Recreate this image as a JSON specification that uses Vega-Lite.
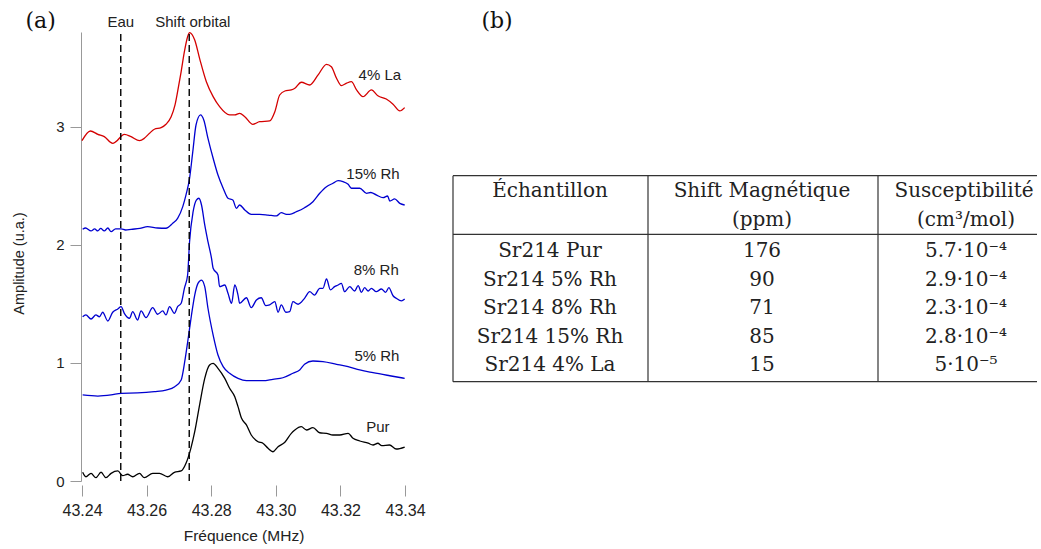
{
 "$schema": "https://vega.github.io/schema/vega-lite/v6.json",
 "background": "white",
 "padding": {"left": 11, "top": 10, "right": 0, "bottom": 0},
 "spacing": 26,
 "config": {"view": {"stroke": null}, "font": "Liberation Sans"},
 "datasets": {
  "curves": [
   {"s":"4% La","f":43.2400,"a":2.884},{"s":"4% La","f":43.2426,"a":2.966},{"s":"4% La","f":43.2449,"a":2.938},{"s":"4% La","f":43.2469,"a":2.918},{"s":"4% La","f":43.2495,"a":2.862},{"s":"4% La","f":43.2505,"a":2.876},{"s":"4% La","f":43.2531,"a":2.938},{"s":"4% La","f":43.2552,"a":2.918},{"s":"4% La","f":43.2578,"a":2.884},{"s":"4% La","f":43.2593,"a":2.904},{"s":"4% La","f":43.2609,"a":2.947},{"s":"4% La","f":43.2624,"a":2.981},{"s":"4% La","f":43.2645,"a":2.994},{"s":"4% La","f":43.2660,"a":3.023},{"s":"4% La","f":43.2676,"a":3.087},{"s":"4% La","f":43.2688,"a":3.187},{"s":"4% La","f":43.2696,"a":3.299},{"s":"4% La","f":43.2707,"a":3.469},{"s":"4% La","f":43.2717,"a":3.638},{"s":"4% La","f":43.2727,"a":3.765},{"s":"4% La","f":43.2733,"a":3.800},{"s":"4% La","f":43.2749,"a":3.737},{"s":"4% La","f":43.2764,"a":3.582},{"s":"4% La","f":43.2785,"a":3.384},{"s":"4% La","f":43.2806,"a":3.257},{"s":"4% La","f":43.2826,"a":3.172},{"s":"4% La","f":43.2857,"a":3.102},{"s":"4% La","f":43.2873,"a":3.102},{"s":"4% La","f":43.2888,"a":3.116},{"s":"4% La","f":43.2904,"a":3.087},{"s":"4% La","f":43.2929,"a":3.023},{"s":"4% La","f":43.2950,"a":3.045},{"s":"4% La","f":43.2981,"a":3.051},{"s":"4% La","f":43.2997,"a":3.130},{"s":"4% La","f":43.3012,"a":3.271},{"s":"4% La","f":43.3028,"a":3.305},{"s":"4% La","f":43.3048,"a":3.314},{"s":"4% La","f":43.3059,"a":3.328},{"s":"4% La","f":43.3079,"a":3.379},{"s":"4% La","f":43.3105,"a":3.356},{"s":"4% La","f":43.3131,"a":3.441},{"s":"4% La","f":43.3157,"a":3.531},{"s":"4% La","f":43.3172,"a":3.511},{"s":"4% La","f":43.3188,"a":3.413},{"s":"4% La","f":43.3203,"a":3.350},{"s":"4% La","f":43.3219,"a":3.371},{"s":"4% La","f":43.3234,"a":3.384},{"s":"4% La","f":43.3250,"a":3.314},{"s":"4% La","f":43.3270,"a":3.257},{"s":"4% La","f":43.3296,"a":3.314},{"s":"4% La","f":43.3316,"a":3.265},{"s":"4% La","f":43.3342,"a":3.237},{"s":"4% La","f":43.3363,"a":3.193},{"s":"4% La","f":43.3384,"a":3.136},{"s":"4% La","f":43.3399,"a":3.164},
   {"s":"15% Rh","f":43.2402,"a":2.133},{"s":"15% Rh","f":43.2411,"a":2.144},{"s":"15% Rh","f":43.2428,"a":2.119},{"s":"15% Rh","f":43.2439,"a":2.136},{"s":"15% Rh","f":43.2449,"a":2.119},{"s":"15% Rh","f":43.2458,"a":2.140},{"s":"15% Rh","f":43.2469,"a":2.119},{"s":"15% Rh","f":43.2480,"a":2.144},{"s":"15% Rh","f":43.2490,"a":2.113},{"s":"15% Rh","f":43.2504,"a":2.136},{"s":"15% Rh","f":43.2521,"a":2.136},{"s":"15% Rh","f":43.2535,"a":2.127},{"s":"15% Rh","f":43.2552,"a":2.133},{"s":"15% Rh","f":43.2579,"a":2.140},{"s":"15% Rh","f":43.2603,"a":2.155},{"s":"15% Rh","f":43.2634,"a":2.144},{"s":"15% Rh","f":43.2660,"a":2.142},{"s":"15% Rh","f":43.2681,"a":2.184},{"s":"15% Rh","f":43.2696,"a":2.226},{"s":"15% Rh","f":43.2712,"a":2.325},{"s":"15% Rh","f":43.2722,"a":2.424},{"s":"15% Rh","f":43.2733,"a":2.565},{"s":"15% Rh","f":43.2743,"a":2.791},{"s":"15% Rh","f":43.2753,"a":3.017},{"s":"15% Rh","f":43.2767,"a":3.102},{"s":"15% Rh","f":43.2777,"a":3.059},{"s":"15% Rh","f":43.2790,"a":2.904},{"s":"15% Rh","f":43.2806,"a":2.735},{"s":"15% Rh","f":43.2821,"a":2.593},{"s":"15% Rh","f":43.2837,"a":2.481},{"s":"15% Rh","f":43.2852,"a":2.396},{"s":"15% Rh","f":43.2867,"a":2.381},{"s":"15% Rh","f":43.2878,"a":2.311},{"s":"15% Rh","f":43.2888,"a":2.339},{"s":"15% Rh","f":43.2904,"a":2.297},{"s":"15% Rh","f":43.2924,"a":2.260},{"s":"15% Rh","f":43.2950,"a":2.260},{"s":"15% Rh","f":43.2976,"a":2.254},{"s":"15% Rh","f":43.3002,"a":2.246},{"s":"15% Rh","f":43.3017,"a":2.274},{"s":"15% Rh","f":43.3033,"a":2.260},{"s":"15% Rh","f":43.3043,"a":2.260},{"s":"15% Rh","f":43.3064,"a":2.282},{"s":"15% Rh","f":43.3089,"a":2.316},{"s":"15% Rh","f":43.3115,"a":2.367},{"s":"15% Rh","f":43.3136,"a":2.438},{"s":"15% Rh","f":43.3157,"a":2.494},{"s":"15% Rh","f":43.3177,"a":2.523},{"s":"15% Rh","f":43.3193,"a":2.545},{"s":"15% Rh","f":43.3208,"a":2.537},{"s":"15% Rh","f":43.3224,"a":2.514},{"s":"15% Rh","f":43.3234,"a":2.481},{"s":"15% Rh","f":43.3260,"a":2.481},{"s":"15% Rh","f":43.3281,"a":2.438},{"s":"15% Rh","f":43.3294,"a":2.445},{"s":"15% Rh","f":43.3311,"a":2.424},{"s":"15% Rh","f":43.3332,"a":2.401},{"s":"15% Rh","f":43.3346,"a":2.415},{"s":"15% Rh","f":43.3353,"a":2.373},{"s":"15% Rh","f":43.3368,"a":2.390},{"s":"15% Rh","f":43.3384,"a":2.353},{"s":"15% Rh","f":43.3399,"a":2.339},
   {"s":"8% Rh","f":43.2402,"a":1.392},{"s":"8% Rh","f":43.2412,"a":1.407},{"s":"8% Rh","f":43.2428,"a":1.373},{"s":"8% Rh","f":43.2443,"a":1.407},{"s":"8% Rh","f":43.2454,"a":1.392},{"s":"8% Rh","f":43.2464,"a":1.430},{"s":"8% Rh","f":43.2480,"a":1.356},{"s":"8% Rh","f":43.2495,"a":1.430},{"s":"8% Rh","f":43.2511,"a":1.458},{"s":"8% Rh","f":43.2521,"a":1.477},{"s":"8% Rh","f":43.2531,"a":1.421},{"s":"8% Rh","f":43.2547,"a":1.379},{"s":"8% Rh","f":43.2557,"a":1.435},{"s":"8% Rh","f":43.2572,"a":1.364},{"s":"8% Rh","f":43.2583,"a":1.441},{"s":"8% Rh","f":43.2598,"a":1.384},{"s":"8% Rh","f":43.2619,"a":1.469},{"s":"8% Rh","f":43.2634,"a":1.413},{"s":"8% Rh","f":43.2650,"a":1.441},{"s":"8% Rh","f":43.2660,"a":1.407},{"s":"8% Rh","f":43.2671,"a":1.477},{"s":"8% Rh","f":43.2686,"a":1.421},{"s":"8% Rh","f":43.2696,"a":1.477},{"s":"8% Rh","f":43.2707,"a":1.506},{"s":"8% Rh","f":43.2717,"a":1.633},{"s":"8% Rh","f":43.2727,"a":1.746},{"s":"8% Rh","f":43.2733,"a":2.028},{"s":"8% Rh","f":43.2744,"a":2.282},{"s":"8% Rh","f":43.2754,"a":2.381},{"s":"8% Rh","f":43.2762,"a":2.396},{"s":"8% Rh","f":43.2770,"a":2.339},{"s":"8% Rh","f":43.2780,"a":2.170},{"s":"8% Rh","f":43.2790,"a":2.028},{"s":"8% Rh","f":43.2801,"a":1.887},{"s":"8% Rh","f":43.2806,"a":1.803},{"s":"8% Rh","f":43.2821,"a":1.746},{"s":"8% Rh","f":43.2826,"a":1.647},{"s":"8% Rh","f":43.2842,"a":1.661},{"s":"8% Rh","f":43.2852,"a":1.591},{"s":"8% Rh","f":43.2863,"a":1.506},{"s":"8% Rh","f":43.2873,"a":1.661},{"s":"8% Rh","f":43.2883,"a":1.576},{"s":"8% Rh","f":43.2888,"a":1.506},{"s":"8% Rh","f":43.2909,"a":1.553},{"s":"8% Rh","f":43.2924,"a":1.469},{"s":"8% Rh","f":43.2940,"a":1.534},{"s":"8% Rh","f":43.2955,"a":1.553},{"s":"8% Rh","f":43.2969,"a":1.486},{"s":"8% Rh","f":43.2981,"a":1.492},{"s":"8% Rh","f":43.2997,"a":1.520},{"s":"8% Rh","f":43.3007,"a":1.430},{"s":"8% Rh","f":43.3017,"a":1.492},{"s":"8% Rh","f":43.3031,"a":1.430},{"s":"8% Rh","f":43.3043,"a":1.435},{"s":"8% Rh","f":43.3053,"a":1.520},{"s":"8% Rh","f":43.3069,"a":1.498},{"s":"8% Rh","f":43.3089,"a":1.548},{"s":"8% Rh","f":43.3105,"a":1.604},{"s":"8% Rh","f":43.3120,"a":1.576},{"s":"8% Rh","f":43.3136,"a":1.633},{"s":"8% Rh","f":43.3146,"a":1.633},{"s":"8% Rh","f":43.3157,"a":1.712},{"s":"8% Rh","f":43.3169,"a":1.619},{"s":"8% Rh","f":43.3182,"a":1.647},{"s":"8% Rh","f":43.3193,"a":1.661},{"s":"8% Rh","f":43.3203,"a":1.675},{"s":"8% Rh","f":43.3213,"a":1.604},{"s":"8% Rh","f":43.3229,"a":1.647},{"s":"8% Rh","f":43.3244,"a":1.610},{"s":"8% Rh","f":43.3255,"a":1.655},{"s":"8% Rh","f":43.3265,"a":1.599},{"s":"8% Rh","f":43.3275,"a":1.638},{"s":"8% Rh","f":43.3286,"a":1.610},{"s":"8% Rh","f":43.3296,"a":1.633},{"s":"8% Rh","f":43.3311,"a":1.604},{"s":"8% Rh","f":43.3327,"a":1.627},{"s":"8% Rh","f":43.3340,"a":1.599},{"s":"8% Rh","f":43.3350,"a":1.638},{"s":"8% Rh","f":43.3363,"a":1.570},{"s":"8% Rh","f":43.3373,"a":1.548},{"s":"8% Rh","f":43.3389,"a":1.526},{"s":"8% Rh","f":43.3399,"a":1.542},
   {"s":"5% Rh","f":43.2402,"a":0.729},{"s":"5% Rh","f":43.2449,"a":0.720},{"s":"5% Rh","f":43.2490,"a":0.729},{"s":"5% Rh","f":43.2521,"a":0.743},{"s":"5% Rh","f":43.2572,"a":0.746},{"s":"5% Rh","f":43.2624,"a":0.757},{"s":"5% Rh","f":43.2660,"a":0.771},{"s":"5% Rh","f":43.2687,"a":0.799},{"s":"5% Rh","f":43.2707,"a":0.856},{"s":"5% Rh","f":43.2718,"a":1.011},{"s":"5% Rh","f":43.2728,"a":1.195},{"s":"5% Rh","f":43.2739,"a":1.407},{"s":"5% Rh","f":43.2749,"a":1.576},{"s":"5% Rh","f":43.2759,"a":1.675},{"s":"5% Rh","f":43.2770,"a":1.703},{"s":"5% Rh","f":43.2780,"a":1.647},{"s":"5% Rh","f":43.2790,"a":1.464},{"s":"5% Rh","f":43.2806,"a":1.237},{"s":"5% Rh","f":43.2821,"a":1.068},{"s":"5% Rh","f":43.2837,"a":0.969},{"s":"5% Rh","f":43.2857,"a":0.913},{"s":"5% Rh","f":43.2883,"a":0.870},{"s":"5% Rh","f":43.2909,"a":0.850},{"s":"5% Rh","f":43.2960,"a":0.850},{"s":"5% Rh","f":43.2991,"a":0.862},{"s":"5% Rh","f":43.3022,"a":0.875},{"s":"5% Rh","f":43.3053,"a":0.913},{"s":"5% Rh","f":43.3074,"a":0.941},{"s":"5% Rh","f":43.3089,"a":0.989},{"s":"5% Rh","f":43.3115,"a":1.017},{"s":"5% Rh","f":43.3146,"a":1.011},{"s":"5% Rh","f":43.3188,"a":0.989},{"s":"5% Rh","f":43.3224,"a":0.969},{"s":"5% Rh","f":43.3260,"a":0.941},{"s":"5% Rh","f":43.3301,"a":0.918},{"s":"5% Rh","f":43.3353,"a":0.892},{"s":"5% Rh","f":43.3399,"a":0.870},
   {"s":"Pur","f":43.2402,"a":0.074},{"s":"Pur","f":43.2412,"a":0.036},{"s":"Pur","f":43.2428,"a":0.065},{"s":"Pur","f":43.2443,"a":0.028},{"s":"Pur","f":43.2459,"a":0.074},{"s":"Pur","f":43.2474,"a":0.028},{"s":"Pur","f":43.2490,"a":0.065},{"s":"Pur","f":43.2511,"a":0.085},{"s":"Pur","f":43.2526,"a":0.045},{"s":"Pur","f":43.2541,"a":0.057},{"s":"Pur","f":43.2557,"a":0.036},{"s":"Pur","f":43.2578,"a":0.065},{"s":"Pur","f":43.2593,"a":0.028},{"s":"Pur","f":43.2619,"a":0.065},{"s":"Pur","f":43.2640,"a":0.065},{"s":"Pur","f":43.2665,"a":0.036},{"s":"Pur","f":43.2686,"a":0.074},{"s":"Pur","f":43.2707,"a":0.085},{"s":"Pur","f":43.2722,"a":0.150},{"s":"Pur","f":43.2737,"a":0.277},{"s":"Pur","f":43.2749,"a":0.418},{"s":"Pur","f":43.2764,"a":0.644},{"s":"Pur","f":43.2780,"a":0.870},{"s":"Pur","f":43.2795,"a":0.983},{"s":"Pur","f":43.2806,"a":0.997},{"s":"Pur","f":43.2821,"a":0.955},{"s":"Pur","f":43.2842,"a":0.870},{"s":"Pur","f":43.2857,"a":0.786},{"s":"Pur","f":43.2873,"a":0.714},{"s":"Pur","f":43.2883,"a":0.630},{"s":"Pur","f":43.2894,"a":0.531},{"s":"Pur","f":43.2909,"a":0.475},{"s":"Pur","f":43.2924,"a":0.390},{"s":"Pur","f":43.2945,"a":0.333},{"s":"Pur","f":43.2960,"a":0.320},{"s":"Pur","f":43.2976,"a":0.277},{"s":"Pur","f":43.2991,"a":0.248},{"s":"Pur","f":43.3007,"a":0.291},{"s":"Pur","f":43.3028,"a":0.328},{"s":"Pur","f":43.3048,"a":0.404},{"s":"Pur","f":43.3059,"a":0.432},{"s":"Pur","f":43.3079,"a":0.460},{"s":"Pur","f":43.3095,"a":0.432},{"s":"Pur","f":43.3115,"a":0.452},{"s":"Pur","f":43.3136,"a":0.409},{"s":"Pur","f":43.3157,"a":0.404},{"s":"Pur","f":43.3177,"a":0.390},{"s":"Pur","f":43.3198,"a":0.390},{"s":"Pur","f":43.3224,"a":0.404},{"s":"Pur","f":43.3239,"a":0.362},{"s":"Pur","f":43.3260,"a":0.339},{"s":"Pur","f":43.3286,"a":0.320},{"s":"Pur","f":43.3301,"a":0.305},{"s":"Pur","f":43.3316,"a":0.320},{"s":"Pur","f":43.3328,"a":0.299},{"s":"Pur","f":43.3352,"a":0.305},{"s":"Pur","f":43.3373,"a":0.271},{"s":"Pur","f":43.3399,"a":0.288}
  ],
  "refs": [{"t":"Eau","f":43.2520,"a":0.0,"a2":3.805},{"t":"Shift orbital","f":43.2732,"a":0.0,"a2":3.805}],
  "reflabels": [{"t":"Eau","f":43.2520,"a":3.886},{"t":"Shift orbital","f":43.2743,"a":3.886}],
  "curvelabels": [{"s":"4% La","f":43.3322,"a":3.441},{"s":"15% Rh","f":43.3301,"a":2.602},{"s":"8% Rh","f":43.3311,"a":1.788},{"s":"5% Rh","f":43.3313,"a":1.062},{"s":"Pur","f":43.3316,"a":0.460}],
  "panelA": [{"t":"(a)","f":43.2272,"a":3.894}],
  "panelB": [{"t":"(b)","cx":44,"ry":-0.39}],
  "tablelines": [
   {"x0":0,"x1":584,"y0":5.132,"y1":5.132},
   {"x0":0,"x1":584,"y0":7.225,"y1":7.225},
   {"x0":0,"x1":584,"y0":12.489,"y1":12.489},
   {"x0":0,"x1":0,"y0":5.132,"y1":12.489},
   {"x0":195,"x1":195,"y0":5.132,"y1":12.489},
   {"x0":425,"x1":425,"y0":5.132,"y1":12.489}
  ],
  "tabletext": [
   {"t":"Échantillon","cx":97,"ry":5.904},
   {"t":"Shift Magnétique","cx":309,"ry":5.904},
   {"t":"Susceptibilité","cx":511,"ry":5.904},
   {"t":"(ppm)","cx":309,"ry":6.921},
   {"t":"(cm³/mol)","cx":513,"ry":6.921},
   {"t":"Sr214 Pur","cx":97,"ry":8.046},{"t":"176","cx":309,"ry":8.046},{"t":"5.7·10⁻⁴","cx":513,"ry":8.046},
   {"t":"Sr214 5% Rh","cx":97,"ry":9.064},{"t":"90","cx":309,"ry":9.064},{"t":"2.9·10⁻⁴","cx":513,"ry":9.064},
   {"t":"Sr214 8% Rh","cx":97,"ry":10.082},{"t":"71","cx":309,"ry":10.082},{"t":"2.3·10⁻⁴","cx":513,"ry":10.082},
   {"t":"Sr214 15% Rh","cx":97,"ry":11.1},{"t":"85","cx":309,"ry":11.1},{"t":"2.8·10⁻⁴","cx":513,"ry":11.1},
   {"t":"Sr214 4% La","cx":97,"ry":12.118},{"t":"15","cx":309,"ry":12.118},{"t":"5·10⁻⁵","cx":513,"ry":12.118}
  ]
 },
 "hconcat": [
  {
   "width": 323,
   "height": 449,
   "encoding": {
    "x": {"field": "f", "type": "quantitative", "scale": {"domain": [43.24, 43.34], "nice": false, "zero": false},
     "axis": {"values": [43.24, 43.26, 43.28, 43.30, 43.32, 43.34], "format": ".2f", "domain": false, "grid": false, "tickColor": "#999", "tickSize": 11, "offset": 4, "labelFlush": false, "labelFontSize": 16, "labelColor": "#222", "labelPadding": 6, "title": "Fréquence (MHz)", "titleFontSize": 15.5, "titleFontWeight": "normal", "titleColor": "#222", "titlePadding": 10}},
    "y": {"field": "a", "type": "quantitative", "scale": {"domain": [0, 3.805], "nice": false, "zero": false},
     "axis": {"values": [0, 1, 2, 3], "grid": false, "domainColor": "#999", "tickColor": "#999", "tickSize": 11, "offset": 1, "labelFontSize": 15, "labelColor": "#222", "labelPadding": 6, "title": "Amplitude (u.a.)", "titleFontSize": 14.5, "titleFontWeight": "normal", "titleColor": "#222", "titlePadding": 29, "titleY": 231}}
   },
   "layer": [
    {"data": {"name": "curves"}, "mark": {"type": "line", "strokeWidth": 1.3, "interpolate": "monotone"},
     "encoding": {"color": {"field": "s", "type": "nominal", "legend": null, "scale": {"domain": ["4% La", "15% Rh", "8% Rh", "5% Rh", "Pur"], "range": ["#d40000", "#0000d0", "#0000d0", "#0000d0", "#000000"]}}}},
    {"data": {"name": "refs"}, "mark": {"type": "rule", "strokeDash": [7, 4], "strokeWidth": 1.4, "color": "#000000"},
     "encoding": {"y2": {"field": "a2"}}},
    {"data": {"name": "reflabels"}, "mark": {"type": "text", "fontSize": 15, "color": "#222", "baseline": "middle"},
     "encoding": {"text": {"field": "t"}}},
    {"data": {"name": "curvelabels"}, "mark": {"type": "text", "fontSize": 15, "color": "#222", "baseline": "middle"},
     "encoding": {"text": {"field": "s"}}},
    {"data": {"name": "panelA"}, "mark": {"type": "text", "fontSize": 22, "font": "DejaVu Serif", "color": "#111", "baseline": "middle"},
     "encoding": {"text": {"field": "t"}}}
   ]
  },
  {
   "width": 584,
   "height": 449,
   "layer": [
    {"data": {"name": "tablelines"}, "mark": {"type": "rule", "color": "#333", "strokeWidth": 1.2},
     "encoding": {
      "x": {"field": "x0", "type": "quantitative", "scale": {"domain": [0, 584], "nice": false, "zero": false}, "axis": null},
      "x2": {"field": "x1"},
      "y": {"field": "y0", "type": "quantitative", "scale": {"domain": [0, 16.036], "nice": false, "zero": false, "reverse": true}, "axis": null},
      "y2": {"field": "y1"}}},
    {"data": {"name": "tabletext"}, "mark": {"type": "text", "fontSize": 20, "font": "DejaVu Serif", "color": "#222", "baseline": "alphabetic", "align": "center"},
     "encoding": {"x": {"field": "cx", "type": "quantitative"}, "y": {"field": "ry", "type": "quantitative"}, "text": {"field": "t"}}},
    {"data": {"name": "panelB"}, "mark": {"type": "text", "fontSize": 22, "font": "DejaVu Serif", "color": "#111", "baseline": "middle"},
     "encoding": {"x": {"field": "cx", "type": "quantitative"}, "y": {"field": "ry", "type": "quantitative"}, "text": {"field": "t"}}}
   ]
  }
 ]
}
